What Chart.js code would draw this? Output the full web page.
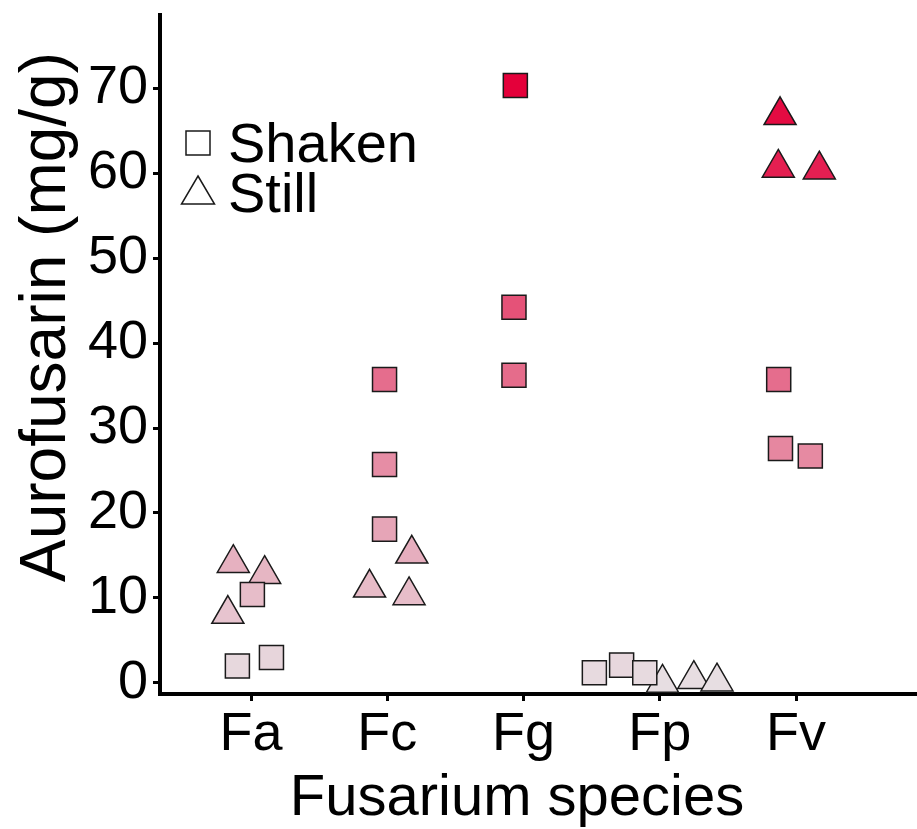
<!DOCTYPE html>
<html>
<head>
<meta charset="utf-8">
<script src="https://cdn.jsdelivr.net/npm/chart.js@4.4.1/dist/chart.umd.min.js"></script>
<style>
  html, body { margin: 0; padding: 0; background: #fff; }
  #wrap { width: 917px; height: 829px; }
</style>
</head>
<body>
<div id="wrap"><canvas id="chart" width="917" height="829"></canvas></div>
<script>
// Categories and tick labels
const species = ['Fa', 'Fc', 'Fg', 'Fp', 'Fv'];
const yTicks = [0, 10, 20, 30, 40, 50, 60, 70];
const xTitle = 'Fusarium species';
const yTitle = 'Aurofusarin (mg/g)';

// Shaken cultures (squares): category index, horizontal jitter, value
const shakenCat = [1, 1, 1, 2, 2, 2, 3, 3, 3, 4, 4, 4, 5, 5, 5];
const shakenJitter = [0.01, -0.10, 0.15, -0.02, -0.02, -0.02, -0.06, -0.07, -0.07, -0.48, -0.28, -0.11, -0.127, -0.114, 0.105];
const shakenValues = [10.4, 2.0, 3.0, 35.7, 25.7, 18.1, 70.3, 44.2, 36.2, 1.2, 2.1, 1.2, 35.7, 27.6, 26.7];

// Still cultures (triangles)
const stillCat = [1, 1, 1, 2, 2, 2, 4, 4, 4, 5, 5, 5];
const stillJitter = [-0.13, 0.10, -0.17, 0.18, -0.13, 0.16, 0.02, 0.25, 0.42, -0.117, -0.13, 0.171];
const stillValues = [14.1, 12.8, 8.1, 15.2, 11.2, 10.3, 0.0, 0.45, 0.15, 66.8, 60.6, 60.4];

// fill gradient (low -> high)
const lowColor = [231, 222, 226];
const highColor = [228, 0, 58];
const allValues = shakenValues.concat(stillValues);
const vMin = Math.min(...allValues);
const vMax = Math.max(...allValues);

const FONT = '"Liberation Sans", Arial, Helvetica, sans-serif';

function fillFor(v) {
  const t = (v - vMin) / (vMax - vMin);
  const c = lowColor.map((l, i) => Math.round(l + (highColor[i] - l) * t));
  return `rgb(${c.join(',')})`;
}

function toPoints(cats, jitter, values) {
  return values.map((v, i) => ({ x: cats[i] + jitter[i], y: v }));
}

// Axis titles + inset legend
const annotations = {
  id: 'annotations',
  afterDraw(chart) {
    const { ctx, chartArea } = chart;
    ctx.save();
    ctx.fillStyle = '#000';
    ctx.textBaseline = 'alphabetic';

    // x title
    ctx.font = `58px ${FONT}`;
    ctx.textAlign = 'center';
    ctx.fillText(xTitle, chartArea.left + 357, chartArea.bottom + 121);

    // y title
    ctx.save();
    ctx.font = `64px ${FONT}`;
    ctx.translate(chartArea.left - 95, chartArea.top + 302);
    ctx.rotate(-Math.PI / 2);
    ctx.fillText(yTitle, 0, 0);
    ctx.restore();

    // legend
    const lx = chartArea.left + 38;
    ctx.strokeStyle = '#1a1a1a';
    ctx.lineWidth = 1.5;
    ctx.fillStyle = '#fff';
    ctx.beginPath();
    ctx.rect(lx - 12, chartArea.top + 116, 24, 24);
    ctx.fill();
    ctx.stroke();

    const ty = chartArea.top + 161;
    ctx.beginPath();
    ctx.moveTo(lx, ty);
    ctx.lineTo(lx + 16.5, ty + 28);
    ctx.lineTo(lx - 16.5, ty + 28);
    ctx.closePath();
    ctx.fill();
    ctx.stroke();

    ctx.fillStyle = '#000';
    ctx.font = `56px ${FONT}`;
    ctx.textAlign = 'left';
    ctx.fillText('Shaken', chartArea.left + 68, chartArea.top + 147);
    ctx.fillText('Still', chartArea.left + 68, chartArea.top + 197);
    ctx.restore();
  }
};

const ctx = document.getElementById('chart').getContext('2d');
new Chart(ctx, {
  type: 'scatter',
  data: {
    datasets: [
      {
        label: 'Shaken',
        data: toPoints(shakenCat, shakenJitter, shakenValues),
        pointStyle: 'rect',
        pointRadius: 17,
        pointHoverRadius: 17,
        backgroundColor: shakenValues.map(fillFor),
        borderColor: '#1a1a1a',
        borderWidth: 1.5,
        clip: false
      },
      {
        label: 'Still',
        data: toPoints(stillCat, stillJitter, stillValues),
        pointStyle: 'triangle',
        pointRadius: 18.5,
        pointHoverRadius: 18.5,
        backgroundColor: stillValues.map(fillFor),
        borderColor: '#1a1a1a',
        borderWidth: 1.5,
        clip: false
      }
    ]
  },
  options: {
    responsive: false,
    animation: false,
    devicePixelRatio: 1,
    layout: {
      autoPadding: false,
      padding: { top: 15, left: 0, right: 0, bottom: 0 }
    },
    plugins: {
      legend: { display: false },
      tooltip: { enabled: false }
    },
    scales: {
      x: {
        type: 'linear',
        min: 0.332,
        max: 5.888,
        afterBuildTicks: (scale) => {
          scale.ticks = species.map((_, i) => ({ value: i + 1 }));
        },
        afterFit: (scale) => {
          scale.height = 135;
          scale.paddingLeft = 0;
          scale.paddingRight = 0;
        },
        ticks: {
          autoSkip: false,
          maxRotation: 0,
          padding: 2,
          color: '#000',
          font: { family: FONT, size: 54 },
          callback: (value) => species[Math.round(value) - 1] || ''
        },
        grid: {
          drawOnChartArea: false,
          drawTicks: true,
          tickLength: 7,
          tickWidth: 3,
          tickColor: '#000'
        },
        border: { display: true, color: '#000', width: 4 }
      },
      y: {
        min: -1.3,
        max: 78.6,
        afterBuildTicks: (scale) => {
          scale.ticks = yTicks.map((v) => ({ value: v }));
        },
        afterFit: (scale) => {
          scale.width = 160;
          scale.paddingTop = 0;
          scale.paddingBottom = 0;
        },
        ticks: {
          padding: 5,
          color: '#000',
          font: { family: FONT, size: 54 },
          callback: (value) => String(value)
        },
        grid: {
          drawOnChartArea: false,
          drawTicks: true,
          tickLength: 7,
          tickWidth: 3,
          tickColor: '#000'
        },
        border: { display: true, color: '#000', width: 4 }
      }
    }
  },
  plugins: [annotations]
});
</script>
</body>
</html>
